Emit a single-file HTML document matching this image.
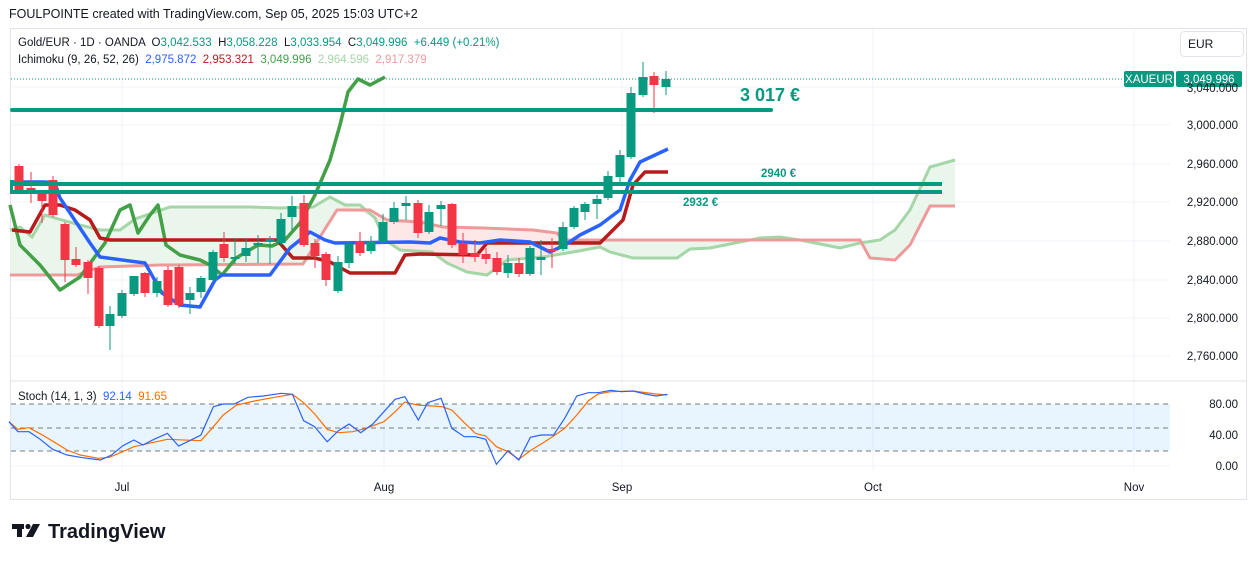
<!DOCTYPE html>
<html><head><meta charset="utf-8">
<style>
html,body{margin:0;padding:0;background:#fff;width:1257px;height:561px;overflow:hidden;font-family:"Liberation Sans",sans-serif;}
svg{position:absolute;left:0;top:0}
text{white-space:pre}
</style></head><body>
<svg id="s" width="1257" height="561" xmlns="http://www.w3.org/2000/svg" font-family="Liberation Sans, sans-serif">
<text x="9" y="18" font-size="12.5" fill="#131722">FOULPOINTE created with TradingView.com, Sep 05, 2025 15:03 UTC+2</text>
<rect x="10.5" y="28.5" width="1236" height="471" fill="none" stroke="#e0e3eb"/>
<g stroke="#f0f3fa" stroke-width="1">
<line x1="122" y1="29" x2="122" y2="470"/><line x1="384" y1="29" x2="384" y2="470"/><line x1="622" y1="29" x2="622" y2="470"/><line x1="873" y1="29" x2="873" y2="470"/><line x1="1134" y1="29" x2="1134" y2="470"/>
<line x1="11" y1="87" x2="1170" y2="87"/><line x1="11" y1="125" x2="1170" y2="125"/><line x1="11" y1="164" x2="1170" y2="164"/><line x1="11" y1="202" x2="1170" y2="202"/><line x1="11" y1="241" x2="1170" y2="241"/><line x1="11" y1="280" x2="1170" y2="280"/><line x1="11" y1="318" x2="1170" y2="318"/><line x1="11" y1="356" x2="1170" y2="356"/>
<line x1="11" y1="466" x2="1170" y2="466"/>
</g>
<line x1="11" y1="381" x2="1246" y2="381" stroke="#e0e3eb"/>
<g id="cloud"></g>
<g id="lines"></g>
<g id="candles"></g>
<g fill="#089981">
<rect x="10" y="108" width="763" height="4" rx="2"/>
<rect x="10" y="182" width="932" height="4"/>
<rect x="10" y="190" width="932" height="4"/>
<rect x="10" y="180" width="3" height="14"/>
</g>
<text x="740" y="101" font-size="18" font-weight="bold" fill="#089981">3 017 €</text>
<text x="761" y="177" font-size="11.5" font-weight="bold" fill="#089981">2940 €</text>
<text x="683" y="206" font-size="11.5" font-weight="bold" fill="#089981">2932 €</text>
<line x1="11" y1="79" x2="1124" y2="79" stroke="#089981" stroke-dasharray="1,2"/>
<rect x="1124" y="71" width="50" height="16" rx="2" fill="#089981"/>
<text x="1149" y="83" font-size="11.5" fill="#fff" text-anchor="middle">XAUEUR</text>
<rect x="1176" y="71" width="66" height="16" rx="2" fill="#089981"/>
<text x="1209" y="83" font-size="11.5" fill="#fff" text-anchor="middle">3,049.996</text>
<rect x="1180.5" y="31.5" width="63" height="25" rx="4" fill="#fff" stroke="#e0e3eb"/>
<text x="1188" y="48" font-size="12" fill="#131722">EUR</text>
<g font-size="11.5" fill="#131722" text-anchor="end">
<text x="1238" y="92">3,040.000</text><text x="1238" y="129">3,000.000</text><text x="1238" y="168">2,960.000</text><text x="1238" y="206">2,920.000</text><text x="1238" y="245">2,880.000</text><text x="1238" y="284">2,840.000</text><text x="1238" y="322">2,800.000</text><text x="1238" y="360">2,760.000</text>
<text x="1238" y="408">80.00</text><text x="1238" y="439">40.00</text><text x="1238" y="470">0.00</text>
</g>
<g font-size="11.5" fill="#131722" text-anchor="middle">
<text x="122" y="491">Jul</text><text x="384" y="491">Aug</text><text x="622" y="491">Sep</text><text x="873" y="491">Oct</text><text x="1134" y="491">Nov</text>
</g>
<rect x="11" y="404" width="1159" height="47" fill="#2196f3" opacity="0.1"/>
<g stroke="#787b86" stroke-dasharray="5,4" stroke-width="1">
<line x1="11" y1="404" x2="1170" y2="404"/><line x1="11" y1="428" x2="1170" y2="428"/><line x1="11" y1="451" x2="1170" y2="451"/>
</g>
<g id="stoch"></g>
<rect x="14" y="33" width="500" height="32" fill="#fff" opacity="0.8"/>
<text x="18" y="46" font-size="11.5" fill="#131722">Gold/EUR · 1D · OANDA  O<tspan fill="#089981">3,042.533</tspan>  H<tspan fill="#089981">3,058.228</tspan>  L<tspan fill="#089981">3,033.954</tspan>  C<tspan fill="#089981">3,049.996</tspan>  <tspan fill="#089981">+6.449 (+0.21%)</tspan></text>
<text x="18" y="63" font-size="11.5" fill="#131722">Ichimoku (9, 26, 52, 26)  <tspan fill="#2962ff">2,975.872</tspan>  <tspan fill="#b71c1c">2,953.321</tspan>  <tspan fill="#43a047">3,049.996</tspan>  <tspan fill="#a5d6a7">2,964.596</tspan>  <tspan fill="#ef9a9a">2,917.379</tspan></text>
<text x="18" y="400" font-size="11.5" fill="#131722">Stoch (14, 1, 3)  <tspan fill="#2962ff">92.14</tspan>  <tspan fill="#ff6d00">91.65</tspan></text>
<g fill="#131722">
<rect x="12" y="524" width="12" height="5"/><rect x="17" y="524" width="5" height="13"/>
<circle cx="28" cy="526.5" r="2.6"/><polygon points="33,524 40,524 33,537 26,537"/>
</g>
<text x="48" y="538" font-size="20" font-weight="bold" fill="#131722">TradingView</text>
</svg>
<script>
const NS="http://www.w3.org/2000/svg";
function el(p,t,a){const e=document.createElementNS(NS,t);for(const k in a)e.setAttribute(k,a[k]);document.getElementById(p).appendChild(e);return e;}
function pts(a){return a.map(p=>p.join(",")).join(" ");}
const A=[[10,230],[20,227],[32,237],[45,215],[55,218],[80,225],[100,230],[120,230],[135,219],[170,207],[250,207],[280,208],[313,207],[330,197],[345,205],[360,205],[375,218],[385,240],[400,250],[432,252],[447,263],[467,272],[487,275],[507,260],[543,257],[573,252],[600,247],[610,252],[633,258],[677,258],[690,249],[710,248],[760,238],[780,237],[800,240],[840,248],[860,243],[880,240],[895,230],[910,210],[930,167],[955,160]];
const B=[[10,275],[77,275],[100,267],[160,265],[303,264],[337,210],[370,210],[387,220],[420,222],[443,227],[483,228],[533,230],[557,233],[563,240],[860,240],[870,258],[895,260],[910,245],[930,206],[955,206]];
const poly=A.concat(B.slice().reverse());
el("cloud","polygon",{points:pts(poly),fill:"#e8f5e9",opacity:"0.9"});
el("cloud","polygon",{points:"337,210 370,210 387,220 420,222 443,227 483,228 533,230 557,233 563,240 543,257 507,260 487,275 467,272 447,263 432,252 400,250 385,240 375,218 345,205",fill:"#fde7e7"});
el("cloud","polyline",{points:pts(A),fill:"none",stroke:"#a5d6a7","stroke-width":3});
el("cloud","polyline",{points:pts(B),fill:"none",stroke:"#ef9a9a","stroke-width":3});
const G=[[10,205],[20,245],[40,265],[60,290],[80,277],[105,243],[120,210],[130,205],[138,233],[150,215],[158,205],[166,245],[180,255],[200,260],[210,265],[222,275],[236,258],[258,245],[272,246],[285,240],[300,223],[315,195],[330,160],[340,125],[348,92],[358,79],[370,85],[385,77]];
const BL=[[12,182],[45,182],[55,183],[60,198],[90,243],[100,257],[145,263],[162,293],[180,305],[200,307],[215,280],[222,275],[270,275],[290,248],[310,232],[325,240],[335,243],[410,242],[430,243],[440,238],[460,242],[480,243],[500,240],[530,242],[550,252],[565,245],[580,235],[600,225],[620,210],[630,180],[640,162],[668,149]];
const R=[[12,230],[30,232],[45,205],[60,205],[75,210],[90,220],[100,238],[110,240],[277,240],[293,258],[315,258],[330,262],[350,273],[395,273],[405,255],[420,254],[477,255],[487,243],[600,243],[623,220],[633,185],[645,172],[668,172]];
el("lines","polyline",{points:pts(G),fill:"none",stroke:"#43a047","stroke-width":3.5,"stroke-linejoin":"round"});
el("lines","polyline",{points:pts(R),fill:"none",stroke:"#b71c1c","stroke-width":3.5,"stroke-linejoin":"round"});
el("lines","polyline",{points:pts(BL),fill:"none",stroke:"#2962ff","stroke-width":3.5,"stroke-linejoin":"round"});
const C=[[19,166,191,164,193,0],[31,188,190,172,203,0],[42,193,201,191,223,0],[53,180,215,176,217,0],[65,224,260,222,282,0],[76,259,265,247,267,0],[88,262,278,260,294,0],[99,268,326,266,328,0],[110,314,326,306,350,1],[122,293,316,290,318,1],[134,276,294,276,296,1],[145,273,293,272,297,0],[157,281,293,277,297,1],[168,270,305,266,307,0],[179,267,305,265,308,0],[190,293,300,287,314,1],[201,278,292,276,298,1],[213,252,280,250,282,1],[224,244,258,232,262,0],[235,257,259,238,264,1],[246,248,256,238,262,1],[258,243,245,235,263,1],[270,239,241,236,264,1],[281,219,243,213,245,1],[292,206,217,196,230,1],[304,203,245,195,247,0],[315,243,256,239,268,0],[326,254,280,252,286,0],[338,262,291,256,293,1],[349,244,263,242,268,1],[360,241,253,232,256,0],[371,241,251,236,254,1],[383,222,242,214,244,1],[394,208,222,202,224,1],[406,203,206,196,220,1],[418,203,233,200,238,0],[429,212,232,205,234,1],[441,205,209,201,226,1],[452,204,245,203,248,0],[463,243,255,233,263,0],[475,253,257,240,262,0],[486,254,259,248,264,0],[497,258,272,252,275,0],[508,263,273,255,278,1],[519,263,274,258,277,0],[530,248,274,246,276,1],[541,257,260,240,275,1],[552,249,251,238,268,0],[563,227,249,222,251,1],[574,208,227,206,229,1],[585,204,212,202,220,1],[597,199,204,195,219,1],[608,176,198,171,200,1],[620,155,177,150,183,1],[631,93,157,87,159,1],[643,77,95,62,97,1],[654,76,85,72,113,0],[666,79,87,71,95,1]];
for(const c of C){const col=c[5]?"#089981":"#f23645";
el("candles","line",{x1:c[0],x2:c[0],y1:c[3],y2:c[4],stroke:col,"stroke-width":1});
el("candles","rect",{x:c[0]-4.5,y:c[1],width:9,height:Math.max(1,c[2]-c[1]),fill:col});}
const SB=[[20,125],[40,155],[65,155],[90,178],[118,208],[150,225],[185,233],[225,240],[250,225],[275,197],[300,180],[320,195],[345,178],[375,160],[400,198],[425,182],[450,165],[478,80],[500,72],[525,72],[555,52],[590,48],[630,40],[655,43],[680,122],[705,140],[733,185],[758,152],[782,132],[808,158],[835,132],[860,95],[885,58],[907,50],[937,120],[958,68],[988,55],[1012,145],[1040,170],[1065,170],[1088,178],[1112,253],[1138,212],[1162,240],[1188,172],[1212,165],[1240,165],[1265,115],[1292,48],[1318,38],[1340,38],[1368,31],[1392,35],[1418,33],[1445,42],[1470,48],[1495,43]];
const SO=[[20,125],[40,148],[65,143],[95,165],[120,185],[150,210],[180,225],[220,235],[245,232],[275,215],[300,200],[340,188],[375,178],[450,182],[475,145],[500,105],[530,75],[570,63],[610,53],[655,43],[680,68],[705,102],[733,148],[758,158],[790,155],[820,145],[860,125],[885,95],[907,66],[935,75],[990,80],[1012,90],[1040,128],[1065,160],[1088,168],[1112,200],[1138,215],[1162,238],[1190,210],[1215,190],[1240,168],[1265,145],[1292,105],[1318,62],[1340,42],[1368,35],[1418,33],[1470,42],[1495,45]];
const tr=a=>a.map(p=>[(p[0]/2.24).toFixed(1),(380+p[1]/3).toFixed(1)]);
el("stoch","polyline",{points:pts(tr(SO)),fill:"none",stroke:"#ff6d00","stroke-width":1.2});
el("stoch","polyline",{points:pts(tr(SB)),fill:"none",stroke:"#2962ff","stroke-width":1.2});
</script>
</body></html>
